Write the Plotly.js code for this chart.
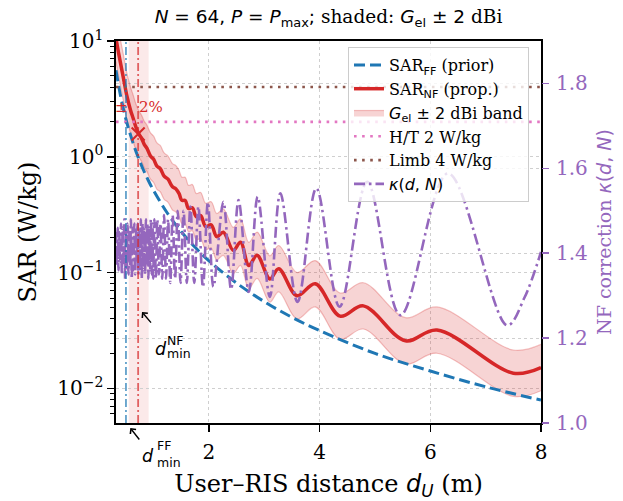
<!DOCTYPE html>
<html>
<head>
<meta charset="utf-8">
<script src="https://cdn.plot.ly/plotly-3.0.1.min.js"></script>
<style>html,body{margin:0;padding:0;background:#fff}#chart{width:623px;height:501px}</style>
</head>
<body>
<div id="chart"></div>
<script>
// ---------------- data ----------------
const xRange = [0.32, 8];

// far-field SAR (prior), W/kg
const ffD   = [0.32, 0.40, 0.50, 0.60, 0.70, 0.80, 0.90, 1.00, 1.25, 1.50, 1.75, 2.00, 2.50, 3.00, 3.50, 4.00, 5.00, 6.00, 7.00, 8.00];
const ffSAR = [5.6, 3.4, 2.1, 1.45, 1.05, 0.80, 0.63, 0.51, 0.325, 0.225, 0.165, 0.126, 0.081, 0.056, 0.041, 0.0315, 0.020, 0.0141, 0.0103, 0.0079];

// near-field SAR (proposed), W/kg
const nfD   = [0.32, 0.36, 0.40, 0.45, 0.52, 0.58, 0.63, 0.68, 0.73, 0.78, 0.83, 0.88, 0.94, 1.00, 1.06, 1.12, 1.19, 1.26, 1.34, 1.40, 1.46, 1.51, 1.57, 1.63, 1.70, 1.77, 1.85, 1.94, 2.04, 2.14, 2.26, 2.44, 2.57, 2.72, 2.87, 3.10, 3.26, 3.59, 3.92, 4.37, 4.79, 5.55, 6.12, 7.50, 8.00];
const nfSAR = [10.5, 8.2, 6.5, 4.9, 3.3, 2.55, 2.15, 1.80, 1.58, 1.45, 1.28, 1.18, 1.02, 0.95, 0.83, 0.79, 0.68, 0.64, 0.55, 0.53, 0.48, 0.42, 0.42, 0.357, 0.363, 0.304, 0.31, 0.25, 0.258, 0.204, 0.223, 0.155, 0.183, 0.115, 0.141, 0.088, 0.108, 0.063, 0.080, 0.042, 0.0515, 0.0257, 0.0318, 0.0135, 0.0151];

// NF correction kappa(d, N), right axis
const kapD = [0.320,0.335,0.350,0.365,0.380,0.395,0.410,0.425,0.440,0.455,0.470,0.485,0.500,0.515,0.530,0.545,0.560,0.575,0.590,0.605,0.620,0.635,0.650,0.665,0.680,0.695,0.710,0.725,0.740,0.755,0.770,0.785,0.800,0.815,0.830,0.845,0.860,0.875,0.890,0.905,0.920,0.935,0.950,0.965,0.980,
              0.991,1.015,1.041,1.067,1.096,1.125,1.156,1.189,1.224,1.261,1.301,1.343,1.387,1.435,1.486,1.541,1.600,1.664,1.734,1.809,1.891,1.981,
              2.080,2.260,2.400,2.535,2.720,2.880,3.100,3.290,3.600,3.940,4.360,4.860,5.460,6.320,7.390,7.700,8.000];
const kapV = [1.45,1.37,1.46,1.36,1.45,1.38,1.47,1.35,1.46,1.37,1.48,1.34,1.46,1.36,1.47,1.35,1.45,1.37,1.48,1.34,1.46,1.36,1.47,1.35,1.46,1.38,1.47,1.35,1.46,1.36,1.48,1.34,1.47,1.36,1.46,1.35,1.48,1.37,1.47,1.34,1.46,1.36,1.48,1.35,1.47,
              1.34,1.48,1.34,1.48,1.35,1.47,1.34,1.49,1.34,1.48,1.33,1.49,1.34,1.50,1.33,1.50,1.33,1.51,1.33,1.51,1.32,1.52,
              1.321,1.521,1.315,1.525,1.309,1.533,1.297,1.541,1.285,1.553,1.274,1.568,1.254,1.588,1.230,1.295,1.403];

// limits and markers
const limitHT = 2;      // W/kg head/trunk
const limitLimb = 4;    // W/kg limbs
const gelDB = 2;        // +/- dBi band
const dminFF = 0.50;
const dminNF = 0.72;
const nfBandD = [0.55, 0.91];
const nfMarkD = [0.72];
const nfMarkSAR = [1.57];
const tolText = '2%';

// ---------------- styling ----------------
const SERIF = '"DejaVu Serif", "Liberation Serif", serif';
const SANS = '"DejaVu Sans", sans-serif';
const S = t => '<span style="font-family:DejaVu Sans">' + t + '</span>';
const BLUE = '#1f77b4', RED = '#d62728', PURPLE = '#9467bd', PINK = '#e377c2', BROWN = '#8c564b';

const gFac = Math.pow(10, gelDB / 10);
const bandLo = nfSAR.map(v => v / gFac);
const bandHi = nfSAR.map(v => v * gFac);

const traces = [
  {x: nfD, y: bandLo, type: 'scatter', mode: 'lines', line: {color: 'rgba(214,39,40,0.28)', width: 1.2, shape: 'spline'},
   showlegend: false, hoverinfo: 'skip'},
  {x: nfD, y: bandHi, type: 'scatter', mode: 'lines', fill: 'tonexty', fillcolor: 'rgba(214,39,40,0.2)',
   line: {color: 'rgba(214,39,40,0.28)', width: 1.2, shape: 'spline'},
   name: S('<i>G</i><sub>el</sub> ± 2') + ' dBi band', legendrank: 3},
  {x: ffD, y: ffSAR, type: 'scatter', mode: 'lines', line: {color: BLUE, width: 3, dash: '11px,5px', shape: 'spline'},
   name: 'SAR' + S('<sub>FF</sub>') + ' (prior)', legendrank: 1},
  {x: nfD, y: nfSAR, type: 'scatter', mode: 'lines', line: {color: RED, width: 3.5, shape: 'spline'},
   name: 'SAR' + S('<sub>NF</sub>') + ' (prop.)', legendrank: 2},
  {x: nfMarkD, y: nfMarkSAR, type: 'scatter', mode: 'markers',
   marker: {symbol: 'x-thin', size: 13, line: {color: RED, width: 2}, color: RED}, showlegend: false},
  {x: xRange, y: [limitHT, limitHT], type: 'scatter', mode: 'lines', line: {color: PINK, width: 2.6, dash: '2.6px,5.5px'},
   name: 'H/T 2 W/kg', legendrank: 4},
  {x: xRange, y: [limitLimb, limitLimb], type: 'scatter', mode: 'lines', line: {color: BROWN, width: 2.6, dash: '2.6px,5.5px'},
   name: 'Limb 4 W/kg', legendrank: 5},
  {x: kapD, y: kapV, yaxis: 'y2', type: 'scatter', mode: 'lines',
   line: {color: PURPLE, width: 2.6, dash: '11px,4px,2.5px,4px', shape: 'spline'},
   name: S('<i>κ</i>(<i>d</i>, <i>N</i>)'), legendrank: 6}
];

// plot-area geometry used for paper-placed labels
const PL = 116, PR = 541, PT = 41, PB = 423;
const px2x = p => (p - PL) / (PR - PL);
const py2y = p => (PB - p) / (PB - PT);

const minorVals = [];
for (let e = -3; e <= 1; e++) for (let m = 2; m <= 9; m++) minorVals.push(m * Math.pow(10, e));

const ann = [];
const txt = (x, y, text, size, color, xanchor, family) => ann.push({
  xref: 'paper', yref: 'paper', x: px2x(x), y: py2y(y), text: text, showarrow: false,
  xanchor: xanchor || 'center', yanchor: 'middle', font: {family: family || SANS, size: size, color: color || '#000'}
});
// ±2% label
txt(121.5, 107, '±', 15, RED, 'center', SERIF);
txt(150.5, 107, tolText, 15, RED, 'center', SERIF);
// d_min^NF
txt(153, 348.5, '<i>d</i>', 17.5, '#000', 'left');
txt(165, 340.5, 'NF', 12.5, '#000', 'left');
txt(165, 353, 'min', 12.5, '#000', 'left');
// d_min^FF
txt(140, 456, '<i>d</i>', 17.5, '#000', 'left');
txt(154.5, 445.5, 'FF', 12.5, '#000', 'left');
txt(154.5, 462, 'min', 12.5, '#000', 'left');
// arrows
ann.push({xref: 'x', yref: 'paper', x: 0.79, y: py2y(312), ax: 11, ay: 13, text: ' ', showarrow: true,
  arrowhead: 4, arrowsize: 1, arrowwidth: 1.4, arrowcolor: '#000', font: {size: 2}});
ann.push({xref: 'x', yref: 'paper', x: 0.578, y: py2y(428), ax: 11, ay: 14, text: ' ', showarrow: true,
  arrowhead: 4, arrowsize: 1, arrowwidth: 1.4, arrowcolor: '#000', font: {size: 2}});

const shapes = [
  {type: 'rect', xref: 'x', yref: 'paper', x0: nfBandD[0], x1: nfBandD[1], y0: 0, y1: 1,
   fillcolor: 'rgba(214,39,40,0.1)', line: {width: 0}, layer: 'below'},
  {type: 'line', xref: 'x', yref: 'paper', x0: dminFF, x1: dminFF, y0: 0, y1: 1,
   line: {color: 'rgba(31,119,180,0.7)', width: 1.8, dash: '8px,3px,2px,3px'}},
  {type: 'line', xref: 'x', yref: 'paper', x0: dminNF, x1: dminNF, y0: 0, y1: 1,
   line: {color: 'rgba(214,39,40,0.7)', width: 1.8, dash: '8px,3px,2px,3px'}}
];

const layout = {
  width: 623, height: 501,
  margin: {l: PL, r: 623 - PR, t: PT, b: 501 - PB, pad: 0},
  paper_bgcolor: '#fff', plot_bgcolor: '#fff',
  font: {family: SERIF, size: 16, color: '#000'},
  title: {text: S('<i>N</i> = 64, <i>P</i> = <i>P</i><sub>max</sub>;') + ' shaded: ' + S('<i>G</i><sub>el</sub> ± 2') + ' dBi',
          x: 0.5, xref: 'paper', xanchor: 'center', y: 1 - 17 / 501, yref: 'container', yanchor: 'middle',
          font: {family: SERIF, size: 18.5, color: '#000'}},
  showlegend: true,
  legend: {x: px2x(348), y: py2y(47), xanchor: 'left', yanchor: 'top', bgcolor: 'rgba(255,255,255,0.8)',
           bordercolor: '#cccccc', borderwidth: 1, font: {family: SERIF, size: 16, color: '#000'},
           itemwidth: 30, tracegroupgap: 0, traceorder: 'normal'},
  xaxis: {range: xRange, tickmode: 'array', tickvals: [2, 4, 6, 8], ticks: 'outside', ticklen: 7, tickwidth: 1.5, tickcolor: '#000',
          ticklabelstandoff: 3,
          showline: true, mirror: true, linewidth: 1.6, linecolor: '#000', zeroline: false,
          showgrid: true, gridcolor: '#cfcfcf', griddash: 'dot', gridwidth: 1,
          tickfont: {family: SERIF, size: 20}, automargin: false,
          title: {text: 'User–RIS distance ' + S('<i>d</i><sub><i>U</i></sub>') + ' (m)', font: {family: SERIF, size: 24}, standoff: 12}},
  yaxis: {type: 'log', range: [-2.30, 1.0], tickmode: 'array', tickvals: [0.01, 0.1, 1, 10],
          ticktext: ['10<sup>−2</sup>', '10<sup>−1</sup>', '10<sup>0</sup>', '10<sup>1</sup>'],
          ticks: 'outside', ticklen: 7, tickwidth: 1.5, tickcolor: '#000',
          minor: {tickmode: 'array', tickvals: minorVals, ticks: 'outside', ticklen: 4, tickwidth: 1, tickcolor: '#000', showgrid: false},
          showline: true, mirror: true, linewidth: 1.6, linecolor: '#000', zeroline: false,
          showgrid: true, gridcolor: '#cfcfcf', griddash: 'dot', gridwidth: 1,
          tickfont: {family: SERIF, size: 20}, automargin: false,
          title: {text: 'SAR (W/kg)', font: {family: SERIF, size: 24}, standoff: 14}},
  yaxis2: {overlaying: 'y', side: 'right', range: [1.0, 1.9], tickmode: 'array', tickvals: [1.0, 1.2, 1.4, 1.6, 1.8],
           tickformat: '.1f', ticks: 'outside', ticklen: 7, tickwidth: 1.5, tickcolor: PURPLE,
           ticklabelstandoff: 3,
           showline: false, zeroline: false, showgrid: true, gridcolor: '#cfcfcf', griddash: 'dot', gridwidth: 1,
           tickfont: {family: SERIF, size: 20, color: PURPLE}, automargin: false,
           title: {text: 'NF correction ' + S('<i>κ</i>(<i>d</i>, <i>N</i>)'), font: {family: SERIF, size: 19, color: PURPLE}, standoff: 10}},
  shapes: shapes,
  annotations: ann
};

Plotly.newPlot('chart', traces, layout, {displayModeBar: false, staticPlot: true});
</script>
</body>
</html>
